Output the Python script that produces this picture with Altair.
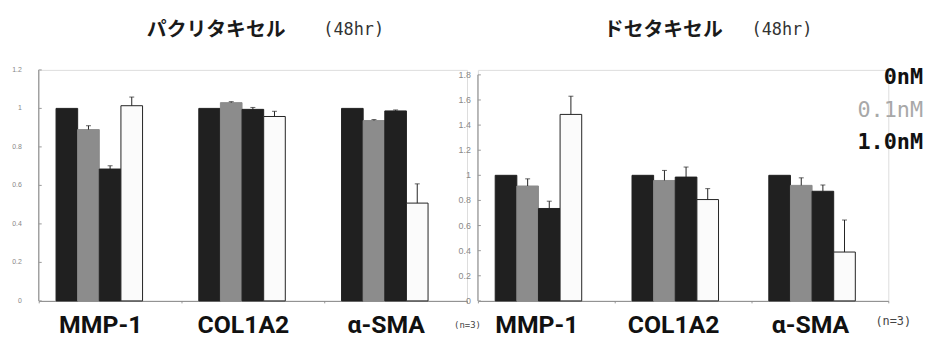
import altair as alt
import pandas as pd

genes = ["MMP-1", "COL1A2", "α-SMA"]
doses = ["0nM", "0.1nM", "1.0nM", "10nM"]
legend_labels = ["0nM", "0.1nM", "1.0nM"]

pac_vals = [[1.00, 0.89, 0.685, 1.014],
            [1.00, 1.03, 0.995, 0.958],
            [1.00, 0.937, 0.987, 0.508]]
pac_err = [[0.0, 0.02, 0.017, 0.045],
           [0.0, 0.005, 0.01, 0.027],
           [0.0, 0.005, 0.005, 0.10]]

doc_vals = [[1.00, 0.915, 0.736, 1.485],
            [1.00, 0.959, 0.986, 0.807],
            [1.00, 0.92, 0.873, 0.389]]
doc_err = [[0.0, 0.057, 0.058, 0.145],
           [0.0, 0.08, 0.08, 0.087],
           [0.0, 0.06, 0.05, 0.255]]

pac_ticks = [0, 0.2, 0.4, 0.6, 0.8, 1.0, 1.2]
pac_tick_labels = ["0", "0.2", "0.4", "0.6", "0.8", "1", "1.2"]
doc_ticks = [0, 0.2, 0.4, 0.6, 0.8, 1.0, 1.2, 1.4, 1.6, 1.8]
doc_tick_labels = ["0", "0.2", "0.4", "0.6", "0.8", "1", "1.2", "1.4", "1.6", "1.8"]

fills = ["#202020", "#8c8c8c", "#202020", "#fbfbfb"]
strokes = ["#202020", "#8c8c8c", "#202020", "#222222"]


def make_df(vals, errs):
    rows = []
    for gi, g in enumerate(genes):
        for di, d in enumerate(doses):
            rows.append({"gene": g, "dose": d, "value": vals[gi][di],
                         "err": errs[gi][di], "top": vals[gi][di] + errs[gi][di]})
    return pd.DataFrame(rows)


def panel(vals, errs, ticks, tick_labels, ymax_scale, width, height, pad_outer,
          lab_size, lab_dx, lab_color, title_jp, title_x, hr_x, n3_size, n3_dy,
          legend=False):
    df = make_df(vals, errs)
    base = alt.Chart(df)
    x = alt.X("gene:N", sort=genes,
              scale=alt.Scale(domain=genes, paddingInner=0, paddingOuter=0),
              axis=alt.Axis(title=None, labelAngle=0, labelFont="Roboto",
                            labelFontSize=25, labelFontWeight="bold",
                            labelColor="#111111", labelPadding=10,
                            labelOffset=-10,
                            domainColor="#888888", tickColor="#999999",
                            tickBand="extent", tickSize=2))
    xo = alt.XOffset("dose:N",
                     scale=alt.Scale(domain=doses + ["_"], paddingInner=0,
                                     paddingOuter=pad_outer))
    yscale = alt.Scale(domain=[0, ymax_scale], nice=False, zero=True)
    bars = base.mark_bar(strokeWidth=1).encode(
        x=x, xOffset=xo,
        y=alt.Y("value:Q", scale=yscale, axis=None),
        color=alt.Color("dose:N", scale=alt.Scale(domain=doses, range=fills), legend=None),
        stroke=alt.Stroke("dose:N", scale=alt.Scale(domain=doses, range=strokes), legend=None),
    )
    eb = base.transform_filter("datum.err > 0")
    rules = eb.mark_rule(color="#222222", strokeWidth=1).encode(
        x=x, xOffset=xo, y=alt.Y("value:Q", axis=None), y2="top:Q")
    caps = eb.mark_tick(color="#222222", size=5, thickness=1).encode(
        x=x, xOffset=xo, y=alt.Y("top:Q", axis=None))
    yline = alt.Chart(pd.DataFrame({"y0": [0], "y1": [ticks[-1]]})).mark_rule(
        color="#888888", strokeWidth=1).encode(
        x=alt.value(0), y=alt.Y("y0:Q", axis=None), y2="y1:Q")
    tdf = pd.DataFrame({"v": ticks, "lab": tick_labels})
    ytick = alt.Chart(tdf).mark_rule(color="#999999", strokeWidth=1).encode(
        x=alt.value(0), x2=alt.value(3), y=alt.Y("v:Q", axis=None))
    ylab = alt.Chart(tdf).mark_text(
        fontSize=lab_size, color=lab_color, align="right", baseline="middle",
        font="Liberation Sans").encode(
        text="lab:N", x=alt.value(lab_dx), y=alt.Y("v:Q", axis=None))
    tjp = alt.Chart(pd.DataFrame({"t": [title_jp]})).mark_text(
        font="Noto Sans CJK JP", fontSize=20, fontWeight="bold",
        color="#1a1a1a", align="center", baseline="middle").encode(
        text="t:N", x=alt.value(title_x), y=alt.value(-40))
    thr = alt.Chart(pd.DataFrame({"t": ["(48hr)"]})).mark_text(
        font="DejaVu Sans Mono", fontSize=17, color="#333333",
        align="left", baseline="middle").encode(
        text="t:N", x=alt.value(hr_x), y=alt.value(-40))
    n3 = alt.Chart(pd.DataFrame({"t": ["(n=3)"]})).mark_text(
        font="DejaVu Sans Mono", fontSize=n3_size, color="#444444",
        align="left", baseline="middle").encode(
        text="t:N", x=alt.value(width - 13), y=alt.value(height + n3_dy))
    layers = [bars, rules, caps, yline, ytick, ylab, tjp, thr, n3]
    if legend:
        lcols = ["#111111", "#a8a8a8", "#111111"]
        lw = ["bold", "normal", "bold"]
        for i, lab in enumerate(legend_labels):
            layers.append(alt.Chart(pd.DataFrame({"t": [lab]})).mark_text(
                font="DejaVu Sans Mono", fontSize=22, fontWeight=lw[i],
                color=lcols[i], align="right", baseline="middle").encode(
                text="t:N", x=alt.value(width + 35), y=alt.value(7 + 33 * i)))
    return alt.layer(*layers).properties(width=width, height=height)


left = panel(pac_vals, pac_err, pac_ticks, pac_tick_labels, 1.2, 432, 233, 0.8,
             7, -17, "#888888", "パクリタキセル", 179, 287, 9, 24)
right = panel(doc_vals, doc_err, doc_ticks, doc_tick_labels, 1.8 * 233 / 228,
              414, 233, 0.71, 9, -7, "#8a8a8a", "ドセタキセル", 187, 276, 12, 20,
              legend=True)

chart = alt.hconcat(left, right, spacing=11, bounds="flush").properties(
    padding={"left": 3, "top": 10, "right": 0, "bottom": 0}
).configure_view(stroke=None).configure(background="white")

chart.save("out.html", embed_options={"renderer": "svg", "actions": False})
